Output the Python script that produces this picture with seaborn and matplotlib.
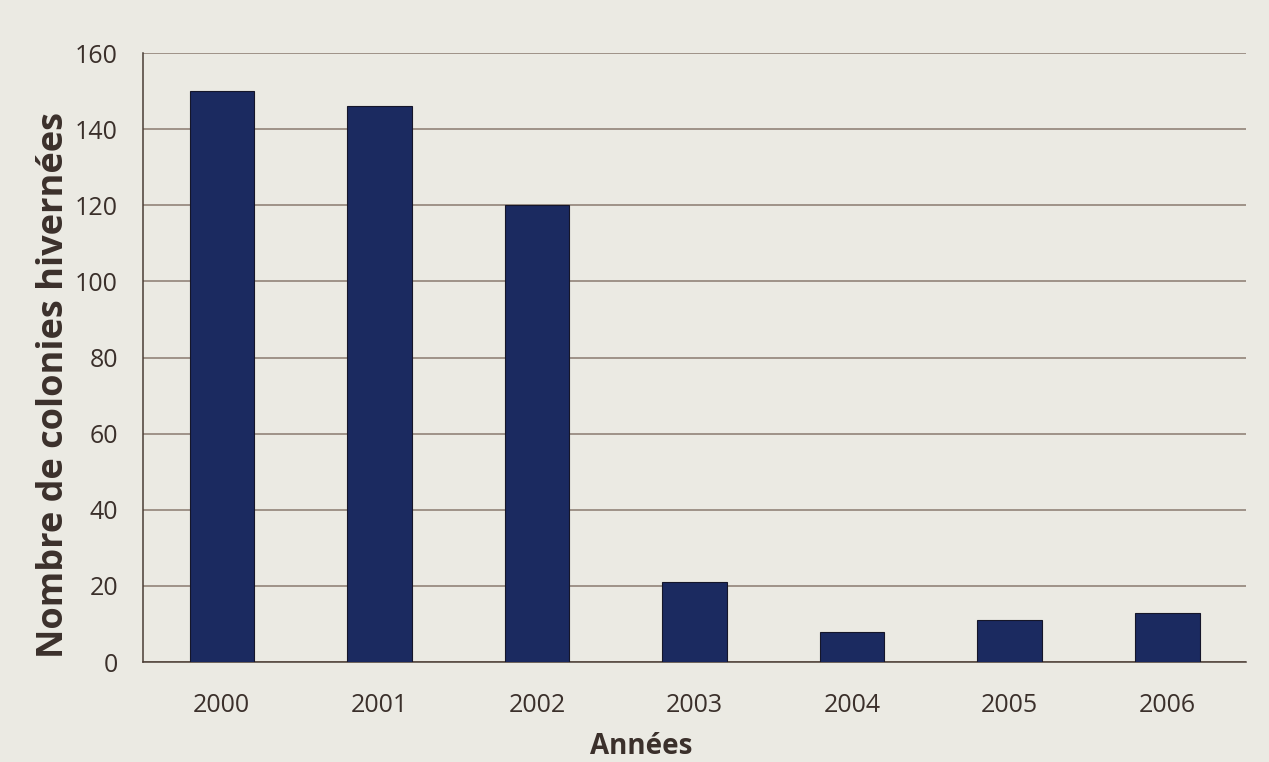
import numpy as np
import pandas as pd
import seaborn as sns
import matplotlib.pyplot as plt
from matplotlib.ticker import FixedLocator, MultipleLocator

# data
years = ['2000', '2001', '2002', '2003', '2004', '2005', '2006']
colonies = [150, 146, 120, 21, 8, 11, 13]

df = pd.DataFrame({'Année': years, 'Colonies': colonies})

bg = '#ebeae3'
line_col = '#8a7b70'
text_col = '#3b302b'
bar_col = '#1b2a60'

sns.set_style('white')
plt.rcParams['font.family'] = ['Open Sans', 'DejaVu Sans']

fig = plt.figure(figsize=(12.69, 7.62), dpi=100, facecolor=bg)
ax = fig.add_axes([0.1127, 0.1312, 0.8692, 0.7992])
ax.set_facecolor(bg)

sns.barplot(data=df, x='Année', y='Colonies', color=bar_col, width=0.41,
            edgecolor='#15162a', linewidth=0.8, saturation=1, ax=ax, zorder=3)

ax.set_ylim(0, 160)
ax.set_xlim(-0.5, len(years) - 0.5)
ax.yaxis.set_major_locator(MultipleLocator(20))
ax.grid(axis='y', color=line_col, linewidth=1.1, zorder=0)
ax.set_axisbelow(True)

# x ticks sit between the categories
ax.xaxis.set_minor_locator(FixedLocator(np.arange(-0.5, len(years), 1.0)))
ax.tick_params(axis='x', which='major', length=0, pad=22, labelsize=18, colors=text_col)
ax.tick_params(axis='x', which='minor', length=8, width=1.1, color='#4a3d35', direction='out')
ax.tick_params(axis='y', which='major', length=8, width=1.1, color='#4a3d35',
               direction='out', labelsize=18, labelcolor=text_col, pad=10)

for side in ['top', 'right']:
    ax.spines[side].set_visible(False)
for side in ['left', 'bottom']:
    ax.spines[side].set_color('#4a3d35')
    ax.spines[side].set_linewidth(1.1)

ax.set_xlabel('Années', fontsize=20, fontweight='bold', color=text_col, labelpad=2)
ax.xaxis.set_label_coords(0.452, -0.115)
ax.set_ylabel('Nombre de colonies hivernées', fontsize=26, fontweight='bold',
              color=text_col)
ax.yaxis.set_label_coords(-0.064, 0.455)

fig.savefig('out.png', dpi=100, facecolor=bg)
